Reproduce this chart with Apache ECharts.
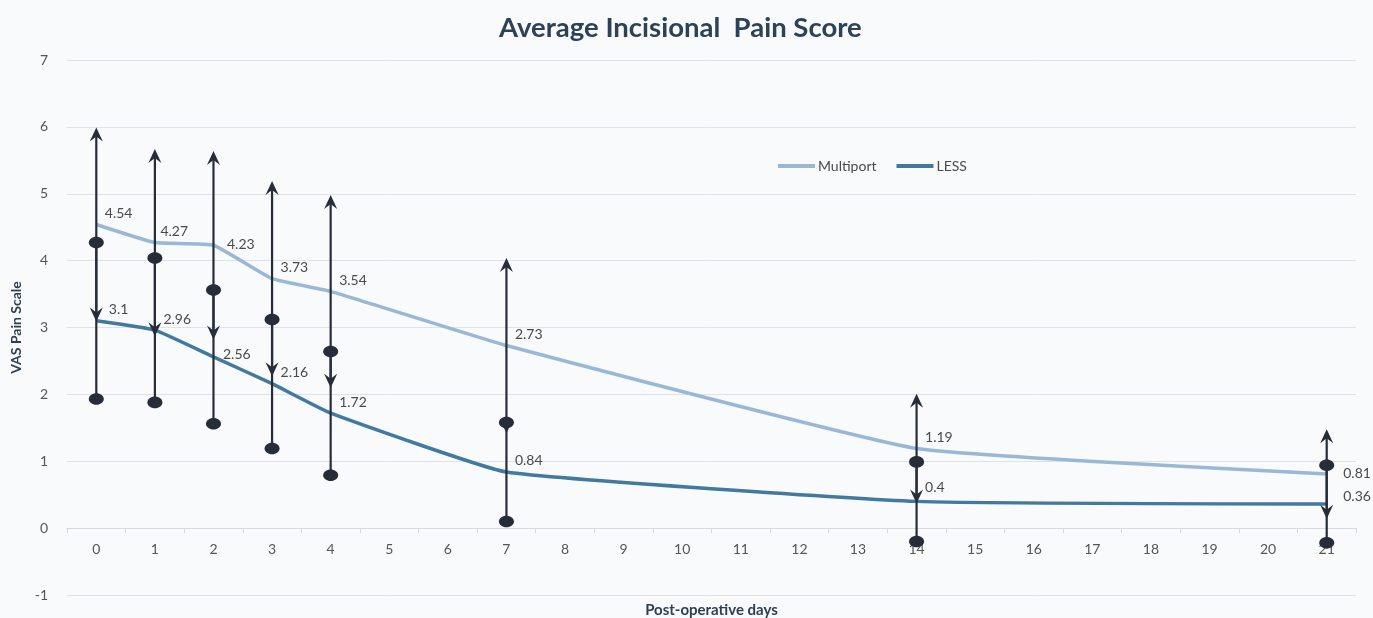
<!DOCTYPE html>
<html>
<head>
<meta charset="utf-8">
<title>Average Incisional Pain Score</title>
<script src="https://cdn.jsdelivr.net/npm/echarts@6/dist/echarts.min.js"></script>
<style>
  html, body { margin: 0; padding: 0; background: #ffffff; }
  #chart { width: 1373px; height: 618px; }
</style>
</head>
<body>
<div id="chart"></div>
<script>
// Post-operative day categories shown on the x axis
const dayLabels = ['0','1','2','3','4','5','6','7','8','9','10','11','12','13','14','15','16','17','18','19','20','21'];
// Days on which pain was recorded
const measuredDays = ['0','1','2','3','4','7','14','21'];

// Mean VAS pain scores
const multiportMean = [4.54, 4.27, 4.23, 3.73, 3.54, 2.73, 1.19, 0.81];
const lessMean      = [3.1, 2.96, 2.56, 2.16, 1.72, 0.84, 0.4, 0.36];

// Error-bar ends (mean ± SD)
const multiportLow  = [3.09, 2.87, 2.82, 2.27, 2.10, 1.42, 0.37, 0.14];
const multiportHigh = [5.99, 5.67, 5.64, 5.19, 4.98, 4.04, 2.01, 1.48];
const lessLow       = [1.93, 1.88, 1.56, 1.19, 0.79, 0.10, -0.20, -0.22];
const lessHigh      = [4.27, 4.04, 3.56, 3.12, 2.64, 1.58, 0.99, 0.94];

const FONT = 'Lato';
const BAR_COLOR = '#262d38';
const MULTI_COLOR = '#9ab8d6';
const LESS_COLOR = '#41799f';

// label nudges (pixels) for points where the default placement differs
const multiNudge = { '1': [-3, 0], '2': [5, 10], '21': [8, 11] };
const lessNudge  = { '0': [4, 0], '2': [1, 9], '14': [0, -3], '21': [8, 3] };

function lineData(means, nudge) {
  return measuredDays.map((d, i) => {
    const item = { value: [d, means[i]] };
    if (nudge[d]) {
      item.label = { offset: [8 + nudge[d][0], -11 + nudge[d][1]] };
    }
    return item;
  });
}

function barData(low, high) {
  return measuredDays.map((d, i) => [d, low[i], high[i]]);
}

// Vertical error bar finished with arrowheads
function renderArrowBar(params, api) {
  const top = api.coord([api.value(0), api.value(2)]);
  const bot = api.coord([api.value(0), api.value(1)]);
  const x = top[0];
  const w = 6.5, h = 14, n = 9;
  return {
    type: 'group',
    children: [
      { type: 'line', shape: { x1: x, y1: top[1] + 6, x2: x, y2: bot[1] - 6 },
        style: { stroke: BAR_COLOR, lineWidth: 2.2 } },
      { type: 'polygon', shape: { points: [[x, top[1]], [x - w, top[1] + h], [x, top[1] + n], [x + w, top[1] + h]] },
        style: { fill: BAR_COLOR } },
      { type: 'polygon', shape: { points: [[x, bot[1]], [x - w, bot[1] - h], [x, bot[1] - n], [x + w, bot[1] - h]] },
        style: { fill: BAR_COLOR } }
    ]
  };
}

// Vertical error bar finished with oval caps
function renderOvalBar(params, api) {
  const top = api.coord([api.value(0), api.value(2)]);
  const bot = api.coord([api.value(0), api.value(1)]);
  const x = top[0];
  return {
    type: 'group',
    children: [
      { type: 'line', shape: { x1: x, y1: top[1], x2: x, y2: bot[1] },
        style: { stroke: BAR_COLOR, lineWidth: 2.2 } },
      { type: 'ellipse', shape: { cx: x, cy: top[1], rx: 7.5, ry: 5.8 },
        style: { fill: BAR_COLOR } },
      { type: 'ellipse', shape: { cx: x, cy: bot[1], rx: 7.5, ry: 5.8 },
        style: { fill: BAR_COLOR } }
    ]
  };
}

const labelStyle = {
  show: true,
  position: 'right',
  distance: 0,
  offset: [8, -11],
  color: '#4a4a4a',
  fontFamily: FONT,
  fontSize: 14
};

const chart = echarts.init(document.getElementById('chart'), null, { renderer: 'canvas' });
chart.setOption({
  backgroundColor: '#f9fafc',
  animation: false,
  title: {
    text: 'Average Incisional  Pain Score',
    left: 494,
    top: 9,
    textStyle: { fontFamily: FONT, fontSize: 27.5, fontWeight: 'bold', color: '#2c4256' }
  },
  legend: {
    left: 773,
    top: 154,
    itemWidth: 37,
    itemHeight: 4,
    itemGap: 20,
    icon: 'rect',
    textStyle: { fontFamily: FONT, fontSize: 14, color: '#4a4a4a', padding: [0, 0, 0, -2] },
    data: [
      { name: 'Multiport', itemStyle: { color: MULTI_COLOR } },
      { name: 'LESS', itemStyle: { color: LESS_COLOR } }
    ]
  },
  grid: { left: 67, right: 17, top: 60, bottom: 23, containLabel: false, outerBoundsMode: 'none' },
  xAxis: {
    type: 'category',
    data: dayLabels,
    boundaryGap: true,
    // axis drawn along the zero line of the value axis
    offset: -67,
    name: 'Post-operative days',
    nameLocation: 'middle',
    nameGap: 75,
    nameTextStyle: { fontFamily: FONT, fontSize: 15, fontWeight: 'bold', color: '#2f3f4f' },
    axisLine: { onZero: false, lineStyle: { color: '#d6d9de', width: 1 } },
    axisTick: { show: true, length: 5, lineStyle: { color: '#d6d9de' } },
    axisLabel: { fontFamily: FONT, fontSize: 14, color: '#555555', margin: 14 }
  },
  yAxis: {
    type: 'value',
    min: -1,
    max: 7,
    interval: 1,
    name: 'VAS Pain Scale',
    nameLocation: 'middle',
    nameGap: 42,
    nameTextStyle: { fontFamily: FONT, fontSize: 14, fontWeight: 'bold', color: '#2f3f4f' },
    axisLine: { show: false },
    axisTick: { show: false },
    axisLabel: { fontFamily: FONT, fontSize: 14, color: '#555555', margin: 19 },
    splitLine: { lineStyle: { color: '#dfe3e8', width: 1 } }
  },
  series: [
    {
      name: 'Multiport',
      type: 'line',
      data: lineData(multiportMean, multiNudge),
      smooth: 0.12,
      symbol: 'circle',
      symbolSize: 1,
      showSymbol: true,
      itemStyle: { color: 'rgba(0,0,0,0)' },
      z: 2,
      lineStyle: { width: 3.5, color: MULTI_COLOR },
      label: labelStyle
    },
    {
      name: 'LESS',
      type: 'line',
      data: lineData(lessMean, lessNudge),
      smooth: 0.12,
      symbol: 'circle',
      symbolSize: 1,
      showSymbol: true,
      itemStyle: { color: 'rgba(0,0,0,0)' },
      z: 2,
      lineStyle: { width: 3.5, color: LESS_COLOR },
      label: labelStyle
    },
    {
      name: 'Multiport SD',
      type: 'custom',
      data: barData(multiportLow, multiportHigh),
      renderItem: renderArrowBar,
      encode: { x: 0, y: [1, 2] },
      z: 5,
      silent: true
    },
    {
      name: 'LESS SD',
      type: 'custom',
      data: barData(lessLow, lessHigh),
      renderItem: renderOvalBar,
      encode: { x: 0, y: [1, 2] },
      z: 6,
      silent: true
    }
  ]
});
</script>
</body>
</html>
